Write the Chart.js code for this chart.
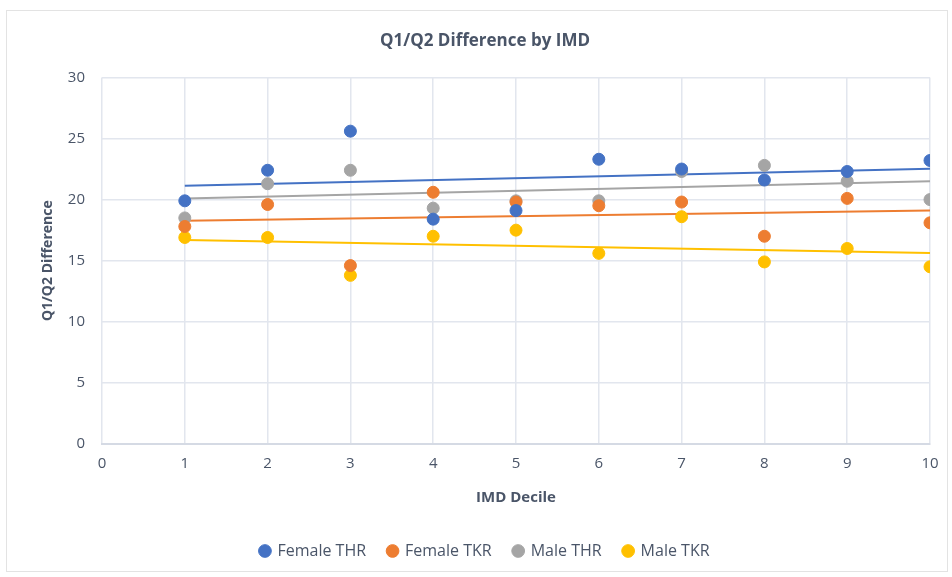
<!DOCTYPE html>
<html>
<head>
<meta charset="utf-8">
<script src="https://cdn.jsdelivr.net/npm/chart.js@4/dist/chart.umd.min.js"></script>
<style>
  html, body { margin: 0; padding: 0; background: #fff; }
  #frame { position: absolute; left: 6px; top: 10px; width: 940px; height: 560px; border: 1px solid #e3e3e3; }
  canvas { position: absolute; left: 0; top: 0; }
</style>
</head>
<body>
<div id="frame"></div>
<canvas id="chart" width="952" height="577"></canvas>
<script>
  const deciles = [1, 2, 3, 4, 5, 6, 7, 8, 9, 10];
  const femaleTHR = [19.9, 22.4, 25.6, 18.4, 19.1, 23.3, 22.5, 21.6, 22.3, 23.2];
  const femaleTKR = [17.8, 19.6, 14.6, 20.6, 19.8, 19.5, 19.8, 17.0, 20.1, 18.1];
  const maleTHR = [18.5, 21.3, 22.4, 19.3, 19.9, 19.9, 22.3, 22.8, 21.5, 20.0];
  const maleTKR = [16.9, 16.9, 13.8, 17.0, 17.5, 15.6, 18.6, 14.9, 16.0, 14.5];

  const seriesNames = ["Female THR", "Female TKR", "Male THR", "Male TKR"];
  const seriesData = [femaleTHR, femaleTKR, maleTHR, maleTKR];
  const colors = ["#4472C4", "#ED7D31", "#A5A5A5", "#FFC000"];

  const textColor = "#4a5568";
  const gridColor = "#e2e6ee";
  const fontFamily = "'Open Sans', sans-serif";

  function points(ys) {
    return deciles.map((x, i) => ({ x: x, y: ys[i] }));
  }

  // least squares trend line, Excel style
  function trend(ys) {
    const n = deciles.length;
    const mx = deciles.reduce((a, b) => a + b, 0) / n;
    const my = ys.reduce((a, b) => a + b, 0) / n;
    let sxy = 0, sxx = 0;
    deciles.forEach((x, i) => {
      sxy += (x - mx) * (ys[i] - my);
      sxx += (x - mx) * (x - mx);
    });
    const b = sxy / sxx;
    const a = my - b * mx;
    const x0 = deciles[0], x1 = deciles[n - 1];
    return [{ x: x0, y: a + b * x0 }, { x: x1, y: a + b * x1 }];
  }

  const datasets = [];
  seriesData.forEach((ys, i) => {
    datasets.push({
      label: seriesNames[i],
      data: points(ys),
      backgroundColor: colors[i],
      borderColor: colors[i],
      pointRadius: 6,
      pointHoverRadius: 6,
      showLine: false,
      order: 1,
    });
  });
  seriesData.forEach((ys, i) => {
    datasets.push({
      label: seriesNames[i] + " trend",
      data: trend(ys),
      borderColor: colors[i],
      borderWidth: 2,
      pointRadius: 0,
      showLine: true,
      fill: false,
      order: 2,
    });
  });

  new Chart(document.getElementById("chart").getContext("2d"), {
    type: "scatter",
    data: { datasets: datasets },
    options: {
      responsive: false,
      animation: false,
      layout: { padding: { left: 40, right: 22, top: 0, bottom: 8 } },
      plugins: {
        tooltip: { enabled: false },
        title: {
          display: true,
          text: "Q1/Q2 Difference by IMD",
          color: textColor,
          font: { family: fontFamily, size: 17, weight: "bold" },
          padding: { top: 31, bottom: 26 },
        },
        legend: {
          position: "bottom",
          labels: {
            usePointStyle: true,
            pointStyle: "circle",
            boxWidth: 9,
            boxHeight: 9,
            padding: 22,
            color: textColor,
            font: { family: fontFamily, size: 16 },
            filter: (item) => item.datasetIndex < 4,
          },
        },
      },
      scales: {
        x: {
          type: "linear",
          min: 0,
          max: 10,
          ticks: { stepSize: 1, color: textColor, font: { family: fontFamily, size: 15 }, padding: 11 },
          grid: { color: gridColor, lineWidth: 1.5, drawTicks: false },
          border: { color: "#d5dae4", width: 2 },
          title: {
            display: true,
            text: "IMD Decile",
            color: textColor,
            font: { family: fontFamily, size: 15, weight: "bold" },
            padding: { top: 10, bottom: 14 },
          },
          afterFit: (scale) => { scale.height = 77; },
        },
        y: {
          min: 0,
          max: 30,
          ticks: { stepSize: 5, color: textColor, font: { family: fontFamily, size: 15 }, padding: 17 },
          grid: { color: gridColor, lineWidth: 1.5, drawTicks: false },
          border: { display: false },
          title: {
            display: true,
            text: "Q1/Q2 Difference",
            color: textColor,
            font: { family: fontFamily, size: 14, weight: "bold" },
            padding: { top: 0, bottom: 12 },
          },
          afterFit: (scale) => { scale.width = 62; },
        },
      },
    },
  });
</script>
</body>
</html>
